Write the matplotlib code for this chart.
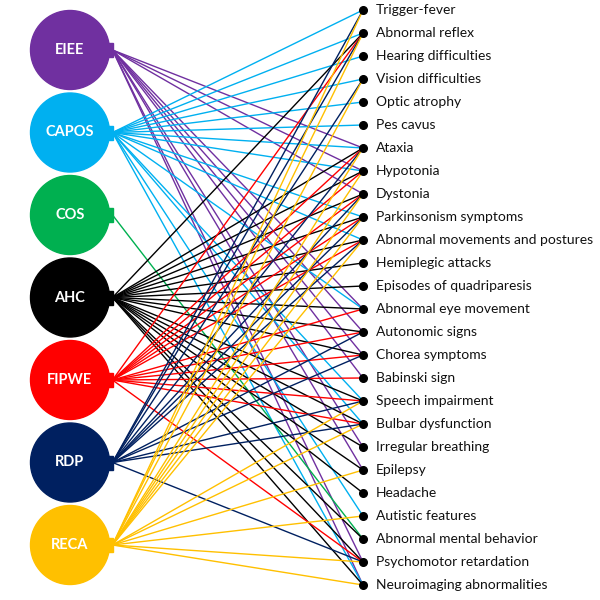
import matplotlib
matplotlib.use('Agg')
import matplotlib.pyplot as plt
from matplotlib.patches import Circle, Rectangle

# disease groups (left) and symptoms (right)
diseases = ['EIEE', 'CAPOS', 'COS', 'AHC', 'FIPWE', 'RDP', 'RECA']
symptoms = [
    'Trigger-fever', 'Abnormal reflex', 'Hearing difficulties', 'Vision difficulties',
    'Optic atrophy', 'Pes cavus', 'Ataxia', 'Hypotonia', 'Dystonia',
    'Parkinsonism symptoms', 'Abnormal movements and postures', 'Hemiplegic attacks',
    'Episodes of quadriparesis', 'Abnormal eye movement', 'Autonomic signs',
    'Chorea symptoms', 'Babinski sign', 'Speech impairment', 'Bulbar dysfunction',
    'Irregular breathing', 'Epilepsy', 'Headache', 'Autistic features',
    'Abnormal mental behavior', 'Psychomotor retardation', 'Neuroimaging abnormalities',
]

# which symptoms each disease links to
eiee_links = ['Ataxia', 'Hypotonia', 'Dystonia', 'Abnormal eye movement', 'Autonomic signs',
              'Chorea symptoms', 'Babinski sign', 'Irregular breathing', 'Epilepsy',
              'Psychomotor retardation', 'Neuroimaging abnormalities']
capos_links = ['Trigger-fever', 'Abnormal reflex', 'Hearing difficulties', 'Vision difficulties',
               'Optic atrophy', 'Pes cavus', 'Ataxia', 'Hypotonia', 'Parkinsonism symptoms',
               'Abnormal movements and postures', 'Abnormal eye movement', 'Speech impairment',
               'Bulbar dysfunction', 'Autistic features', 'Neuroimaging abnormalities']
cos_links = ['Abnormal mental behavior']
ahc_links = ['Abnormal reflex', 'Ataxia', 'Hypotonia', 'Dystonia', 'Parkinsonism symptoms',
             'Abnormal movements and postures', 'Hemiplegic attacks', 'Episodes of quadriparesis',
             'Abnormal eye movement', 'Autonomic signs', 'Chorea symptoms', 'Speech impairment',
             'Bulbar dysfunction', 'Irregular breathing', 'Epilepsy', 'Headache',
             'Abnormal mental behavior', 'Psychomotor retardation', 'Neuroimaging abnormalities']
fipwe_links = ['Abnormal reflex', 'Ataxia', 'Hypotonia', 'Dystonia', 'Parkinsonism symptoms',
               'Abnormal movements and postures', 'Abnormal eye movement', 'Autonomic signs',
               'Chorea symptoms', 'Babinski sign', 'Speech impairment', 'Bulbar dysfunction',
               'Psychomotor retardation']
rdp_links = ['Trigger-fever', 'Abnormal reflex', 'Vision difficulties', 'Ataxia', 'Dystonia',
             'Parkinsonism symptoms', 'Abnormal movements and postures', 'Autonomic signs',
             'Chorea symptoms', 'Speech impairment', 'Bulbar dysfunction', 'Psychomotor retardation']
reca_links = ['Trigger-fever', 'Abnormal reflex', 'Vision difficulties', 'Ataxia', 'Hypotonia',
              'Dystonia', 'Parkinsonism symptoms', 'Abnormal movements and postures',
              'Speech impairment', 'Bulbar dysfunction', 'Epilepsy', 'Autistic features',
              'Psychomotor retardation', 'Neuroimaging abnormalities']
links = [eiee_links, capos_links, cos_links, ahc_links, fipwe_links, rdp_links, reca_links]

colors = ['#7030A0', '#00B0F0', '#00B050', '#000000', '#FF0000', '#002060', '#FFC000']

# layout (pixel coordinates, y downwards)
cx, r = 70, 39.5
y_top, y_step = 50, 82.5
sym_x, sym_y0, sym_dy = 363, 10, 23

fig = plt.figure(figsize=(6, 6), dpi=100)
ax = fig.add_axes([0, 0, 1, 1])
ax.set_xlim(0, 600)
ax.set_ylim(600, 0)
ax.axis('off')

sym_y = {s: sym_y0 + i * sym_dy for i, s in enumerate(symptoms)}

for i, (name, col, targets) in enumerate(zip(diseases, colors, links)):
    yc = y_top + i * y_step
    for s in targets:
        ax.plot([cx + r + 3, sym_x], [yc, sym_y[s]], '-', color=col, lw=1.0,
                solid_capstyle='butt', zorder=2)
    ax.add_patch(Circle((cx, yc), r, color=col, zorder=3))
    ax.add_patch(Rectangle((cx + r - 4, yc - 7), 7, 14, color=col, zorder=3))
    ax.text(cx, yc, name, color='white', fontsize=10.5, fontweight='bold',
            ha='center', va='center', family=['Lato', 'DejaVu Sans'], zorder=4)

for s in symptoms:
    ax.plot(sym_x, sym_y[s], 'o', color='black', ms=5.5, zorder=5)
    ax.text(sym_x + 13, sym_y[s], s, fontsize=10, ha='left', va='center',
            color='#111111', family=['Lato', 'DejaVu Sans'])

fig.savefig('out.png', dpi=100)
